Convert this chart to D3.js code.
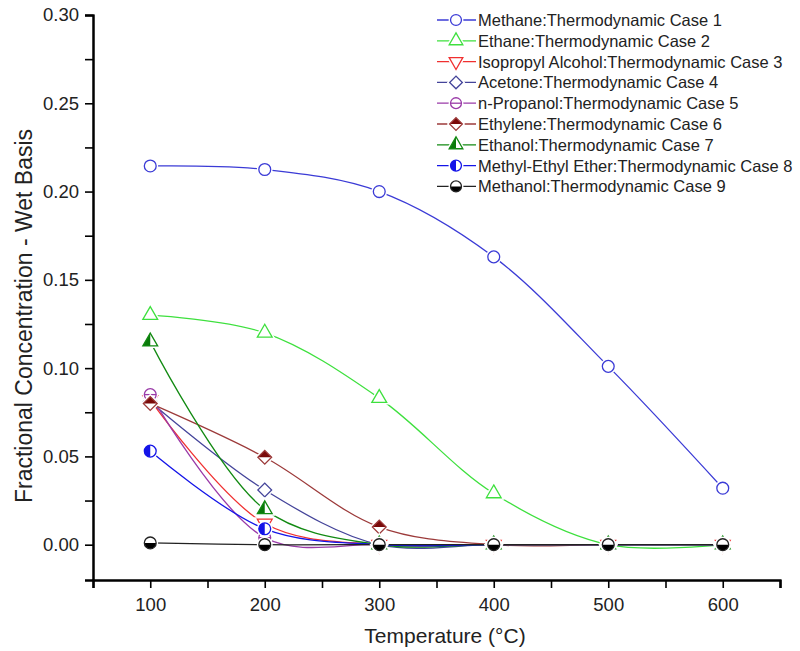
<!DOCTYPE html>
<html>
<head>
<meta charset="utf-8">
<script src="https://cdn.jsdelivr.net/npm/d3@7"></script>
<style>
  body { margin: 0; background: #fff; }
  svg { font-family: "Liberation Sans", Arial, sans-serif; }
</style>
</head>
<body>
<div id="chart"></div>
<script>
// temperatures (°C)
const temps = [100, 200, 300, 400, 500, 600];

// fractional concentration per species, wet basis
const methane    = [0.2145, 0.2125, 0.200, 0.163, 0.101, 0.032];
const ethane     = [0.130, 0.120, 0.083, 0.029, 0.000, 0.000];
const isopropyl  = [0.082, 0.012, 0.000, 0.000, 0.000, 0.000];
const acetone    = [0.081, 0.031, 0.000, 0.000, 0.000, 0.000];
const npropanol  = [0.085, 0.004, 0.000, 0.000, 0.000, 0.000];
const ethylene   = [0.080, 0.0495, 0.010, 0.000, 0.000, 0.000];
const ethanol    = [0.115, 0.020, 0.000, 0.000, 0.000, 0.000];
const methylEther = [0.053, 0.009, 0.000, 0.000, 0.000, 0.000];
const methanol   = [0.001, 0.000, 0.000, 0.000, 0.000, 0.000];

const seriesNames = [
  'Methane:Thermodynamic Case 1',
  'Ethane:Thermodynamic Case 2',
  'Isopropyl Alcohol:Thermodynamic Case 3',
  'Acetone:Thermodynamic Case 4',
  'n-Propanol:Thermodynamic Case 5',
  'Ethylene:Thermodynamic Case 6',
  'Ethanol:Thermodynamic Case 7',
  'Methyl-Ethyl Ether:Thermodynamic Case 8',
  'Methanol:Thermodynamic Case 9'
];
const seriesValues = [methane, ethane, isopropyl, acetone, npropanol, ethylene, ethanol, methylEther, methanol];

const xTicks = [100, 200, 300, 400, 500, 600];
const yTicks = [0.00, 0.05, 0.10, 0.15, 0.20, 0.25, 0.30];

// marker style per series
const styles = [
  {color: '#3b3bd6', shape: 'circle',   half: null},
  {color: '#3ee03e', shape: 'triangle', half: null},
  {color: '#f03030', shape: 'tridown',  half: null},
  {color: '#44449a', shape: 'diamond',  half: null},
  {color: '#9a3aa8', shape: 'circleBar', half: null},
  {color: '#9c3a3a', shape: 'diamond',  half: 'top', fill: '#7a0a0a'},
  {color: '#128a12', shape: 'triangle', half: 'left', fill: '#0a7a0a'},
  {color: '#1414e8', shape: 'circle',   half: 'left', fill: '#1414e8'},
  {color: '#222222', shape: 'circle',   half: 'bottom', fill: '#000'}
];

const width = 800, height = 651;
const margin = {top: 15, right: 20, bottom: 71, left: 93};

const svg = d3.select('#chart').append('svg')
  .attr('width', width)
  .attr('height', height);

const x = d3.scaleLinear().domain([50, 650]).range([margin.left, width - margin.right]);
const y = d3.scaleLinear().domain([-0.02, 0.30]).range([height - margin.bottom, margin.top]);

// clip paths for half-filled markers (local marker space)
const defs = svg.append('defs');
const halves = {
  top: [-12, -12, 24, 12],
  bottom: [-12, 0, 24, 12],
  left: [-12, -12, 12, 24]
};
Object.entries(halves).forEach(([k, r]) => {
  defs.append('clipPath').attr('id', 'half-' + k)
    .append('rect').attr('x', r[0]).attr('y', r[1]).attr('width', r[2]).attr('height', r[3]);
});

function shapePath(shape, k) {
  if (shape === 'triangle' || shape === 'tridown') return d3.symbol(d3.symbolTriangle, 95 * k)();
  if (shape === 'diamond') return d3.symbol(d3.symbolSquare, 95 * k)();
  return d3.symbol(d3.symbolCircle, 110 * k)();
}
function shapeRotate(shape) {
  if (shape === 'tridown') return 180;
  if (shape === 'diamond') return 45;
  return 0;
}

function drawMarker(g, st, k = 1) {
  const d = shapePath(st.shape, k);
  const rot = shapeRotate(st.shape);
  // white halo breaks the lines near the marker
  g.append('path').attr('d', d).attr('transform', `rotate(${rot})`)
    .attr('fill', '#fff').attr('stroke', '#fff').attr('stroke-width', 4);
  if (st.half) {
    g.append('g').attr('clip-path', `url(#half-${st.half})`)
      .append('path').attr('d', d).attr('transform', `rotate(${rot})`)
      .attr('fill', st.fill);
  }
  g.append('path').attr('d', d).attr('transform', `rotate(${rot})`)
    .attr('fill', 'none').attr('stroke', st.color).attr('stroke-width', 1.3);
  if (st.shape === 'circleBar') {
    const r = 5.9 * Math.sqrt(k);
    g.append('line').attr('x1', -r).attr('x2', r).attr('y1', 0).attr('y2', 0)
      .attr('stroke', st.color).attr('stroke-width', 1.3);
  }
}

// axes
const yAxis = d3.axisLeft(y).tickValues(yTicks).tickFormat(d3.format('.2f')).tickSize(8).tickPadding(6);
const yMinor = d3.axisLeft(y).tickValues([0.025, 0.075, 0.125, 0.175, 0.225, 0.275]).tickFormat('').tickSize(8);
const xAxis = d3.axisBottom(x).tickValues(xTicks).tickFormat(d3.format('d')).tickSize(8).tickPadding(10);
const xMinor = d3.axisBottom(x).tickValues([50, 150, 250, 350, 450, 550, 650]).tickFormat('').tickSize(8);

function styleAxis(g) {
  g.select('.domain').attr('stroke', '#000').attr('stroke-width', 2);
  g.selectAll('.tick line').attr('stroke', '#000').attr('stroke-width', 1.6);
  g.selectAll('.tick text').attr('fill', '#222').style('font-size', '18.5px');
}

svg.append('g').attr('transform', `translate(${margin.left},0)`).call(yMinor).call(styleAxis);
svg.append('g').attr('transform', `translate(${margin.left},0)`).call(yAxis).call(styleAxis);
svg.append('g').attr('transform', `translate(0,${height - margin.bottom})`).call(xMinor).call(styleAxis);
svg.append('g').attr('transform', `translate(0,${height - margin.bottom})`).call(xAxis).call(styleAxis);

// axis titles
svg.append('text')
  .attr('x', 445)
  .attr('y', 643)
  .attr('text-anchor', 'middle')
  .attr('fill', '#222')
  .style('font-size', '21px')
  .text('Temperature (°C)');

svg.append('text')
  .attr('transform', 'translate(32,316) rotate(-90)')
  .attr('text-anchor', 'middle')
  .attr('fill', '#222')
  .style('font-size', '23px')
  .text('Fractional Concentration - Wet Basis');

// series
const line = d3.line().x(d => x(d[0])).y(d => y(d[1])).curve(d3.curveCatmullRom.alpha(0.5));
const plot = svg.append('g');
seriesValues.forEach((vals, i) => {
  const st = styles[i];
  const pts = temps.map((t, j) => [t, vals[j]]);
  plot.append('path').datum(pts)
    .attr('d', line)
    .attr('fill', 'none')
    .attr('stroke', st.color)
    .attr('stroke-width', 1.3);
});
seriesValues.forEach((vals, i) => {
  const st = styles[i];
  temps.forEach((t, j) => {
    const g = plot.append('g').attr('transform', `translate(${x(t)},${y(vals[j])})`);
    drawMarker(g, st);
  });
});

// legend
const legend = svg.append('g').attr('transform', 'translate(437,20)');
seriesNames.forEach((name, i) => {
  const st = styles[i];
  const row = legend.append('g').attr('transform', `translate(0,${i * 20.8})`);
  row.append('line').attr('x1', 0).attr('x2', 39).attr('y1', 0).attr('y2', 0)
    .attr('stroke', st.color).attr('stroke-width', 1.3);
  const m = row.append('g').attr('transform', 'translate(19,0)');
  drawMarker(m, st, 0.85);
  row.append('text').attr('x', 41).attr('y', 0).attr('dy', '0.36em')
    .attr('fill', '#222').style('font-size', '16.5px').text(name);
});
</script>
</body>
</html>
